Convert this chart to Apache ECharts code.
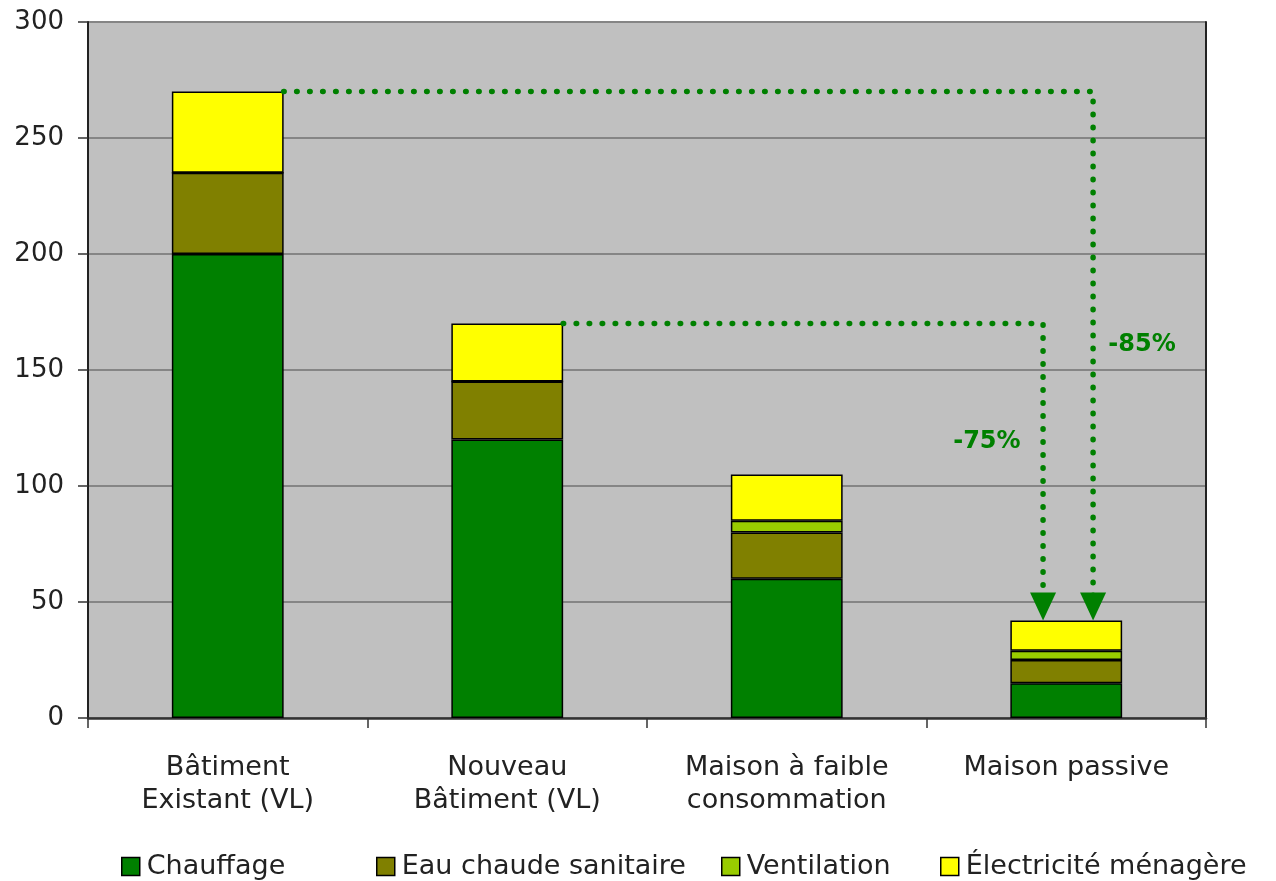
<!DOCTYPE html>
<html>
<head>
<meta charset="utf-8">
<script src="https://cdn.jsdelivr.net/npm/echarts@6/dist/echarts.min.js"></script>
<style>
  html, body { margin: 0; padding: 0; background: #ffffff; }
  #chart { width: 1276px; height: 881px; }
</style>
</head>
<body>
<div id="chart"></div>
<script>
// Consommation d'énergie par type de bâtiment (kWh/m².an)
const categories = [
  'Bâtiment\nExistant (VL)',
  'Nouveau\nBâtiment (VL)',
  'Maison à faible\nconsommation',
  'Maison passive'
];
const seriesNames = ['Chauffage', 'Eau chaude sanitaire', 'Ventilation', 'Électricité ménagère'];
const chauffage   = [200, 120, 60, 15];
const eauChaude   = [35, 25, 20, 10];
const ventilation = [0, 0, 5, 4];
const electricite = [35, 25, 20, 13];
const yTicks = [0, 50, 100, 150, 200, 250, 300];

// Réductions annoncées : depuis le total d'un bâtiment vers le total de la maison passive
const reductions = [
  { label: '-85%', fromIndex: 0, toIndex: 3 },
  { label: '-75%', fromIndex: 1, toIndex: 3 }
];

const colors = ['#008000', '#808000', '#99cc00', '#ffff00'];
const FONT = '"DejaVu Sans", sans-serif';
const BAR_FRAC = 0.4;                // largeur de barre en fraction de catégorie
const ARROW_X = [3.596, 3.417];      // abscisses des flèches (unités de catégorie)
const LABEL_POS = [[3.771, 161], [3.216, 119]]; // emplacements des libellés de réduction

const totals = categories.map((_, i) => chauffage[i] + eauChaude[i] + ventilation[i] + electricite[i]);
const stackData = [chauffage, eauChaude, ventilation, electricite];

const barSeries = seriesNames.map((name, k) => ({
  name: name,
  type: 'bar',
  stack: 'total',
  barWidth: (BAR_FRAC * 100) + '%',
  xAxisIndex: 0,
  yAxisIndex: 0,
  itemStyle: { color: colors[k], borderColor: '#000', borderWidth: 1.5 },
  data: stackData[k],
  z: 2
}));

// Flèches pointillées et pointes triangulaires
const arrowSeries = [];
reductions.forEach((r, j) => {
  const xStart = r.fromIndex + 0.5 + BAR_FRAC / 2;
  const xArrow = ARROW_X[j];
  const yFrom = totals[r.fromIndex];
  const yTo = totals[r.toIndex];
  arrowSeries.push({
    type: 'line',
    xAxisIndex: 1,
    yAxisIndex: 0,
    symbol: 'none',
    silent: true,
    lineStyle: { color: '#008000', width: 5.5, type: [0.5, 12.5], cap: 'round' },
    data: [[xStart, yFrom], [xArrow, yFrom], [xArrow, yTo + 10]],
    z: 5
  });
  arrowSeries.push({
    type: 'scatter',
    xAxisIndex: 1,
    yAxisIndex: 0,
    symbol: 'triangle',
    symbolRotate: 180,
    symbolSize: [26, 28],
    symbolOffset: [0, -14],
    silent: true,
    itemStyle: { color: '#008000', opacity: 1 },
    data: [[xArrow, yTo]],
    z: 6
  });
  arrowSeries.push({
    type: 'scatter',
    xAxisIndex: 1,
    yAxisIndex: 0,
    symbolSize: 0,
    silent: true,
    itemStyle: { opacity: 1 },
    label: {
      show: true,
      position: 'inside',
      formatter: r.label,
      color: '#008000',
      opacity: 1,
      fontFamily: FONT,
      fontSize: 24,
      fontWeight: 'bold'
    },
    data: [LABEL_POS[j]],
    z: 6
  });
});

const legendLefts = [116, 371, 716, 935];
const legends = seriesNames.map((name, k) => ({
  data: [name],
  left: legendLefts[k],
  top: 848,
  icon: 'rect',
  itemWidth: 18,
  itemHeight: 18,
  itemGap: 0,
  selectedMode: false,
  itemStyle: { borderColor: '#000', borderWidth: 1.5 },
  textStyle: { fontFamily: FONT, fontSize: 27, color: '#222', padding: [0, 0, 0, 2] }
}));

const chart = echarts.init(document.getElementById('chart'), null, { renderer: 'canvas' });
chart.setOption({
  animation: false,
  backgroundColor: '#ffffff',
  color: colors,
  legend: legends,
  grid: {
    left: 88, right: 70, top: 22, bottom: 163,
    show: true, backgroundColor: '#c0c0c0', borderWidth: 0
  },
  xAxis: [
    {
      type: 'category',
      data: categories,
      axisLine: { show: true, lineStyle: { color: '#333', width: 2.5 } },
      axisTick: { show: true, alignWithLabel: false, length: 10, lineStyle: { color: '#333', width: 1.5 } },
      axisLabel: { interval: 0, margin: 33, fontFamily: FONT, fontSize: 27, lineHeight: 33, color: '#222' },
      splitLine: { show: false }
    },
    { type: 'value', min: 0, max: 4, show: false }
  ],
  yAxis: [
    {
      type: 'value',
      min: yTicks[0],
      max: yTicks[yTicks.length - 1],
      interval: yTicks[1] - yTicks[0],
      axisLine: { show: true, lineStyle: { color: '#222', width: 2 } },
      axisTick: { show: true, inside: false, length: 10, lineStyle: { color: '#333', width: 1.5 } },
      axisLabel: { margin: 24, fontFamily: FONT, fontSize: 26, color: '#222' },
      splitLine: { show: true, lineStyle: { color: '#858585', width: 2 } }
    },
    {
      // bordure droite de la zone de tracé
      type: 'value',
      position: 'right',
      min: yTicks[0],
      max: yTicks[yTicks.length - 1],
      interval: yTicks[1] - yTicks[0],
      axisLine: { show: true, lineStyle: { color: '#222', width: 2 } },
      axisTick: { show: false },
      axisLabel: { show: false },
      splitLine: { show: false }
    }
  ],
  series: barSeries.concat(arrowSeries)
});
</script>
</body>
</html>
